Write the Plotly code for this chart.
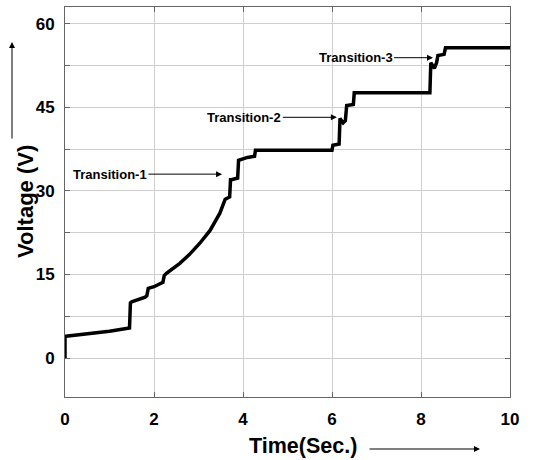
import plotly.graph_objects as go

# Voltage trace (step-like response)
time_s = [0, 0, 0.02, 0.5, 1.0, 1.45, 1.47, 1.5, 1.8, 1.84, 1.87, 2.0, 2.2, 2.23, 2.28,
          2.58, 2.8, 3.03, 3.26, 3.48, 3.6, 3.7, 3.72, 3.74, 3.88, 3.9, 4.1, 4.26, 4.28,
          5.0, 6.0, 6.02, 6.16, 6.18, 6.25, 6.3, 6.33, 6.48, 6.5, 6.52, 7.5, 8.2,
          8.22, 8.3, 8.35, 8.38, 8.52, 8.55, 10.0]
voltage = [0, 3.8, 3.9, 4.3, 4.8, 5.4, 9.9, 10.1, 10.9, 11.2, 12.5, 12.8, 13.6, 14.8, 15.2,
           17.0, 18.6, 20.6, 22.9, 26.0, 28.5, 28.9, 32.0, 32.0, 32.3, 35.5, 36.0, 36.2, 37.3,
           37.3, 37.3, 38.2, 38.4, 43.0, 42.2, 42.6, 45.3, 45.5, 47.6, 47.6, 47.6, 47.6,
           53.0, 52.0, 53.0, 54.3, 54.5, 55.7, 55.7]

# Annotation labels: text, arrow tip (t, V), text centre t
ann_text = ["Transition-1", "Transition-2", "Transition-3"]
ann_tip_t = [3.53, 6.11, 8.27]
ann_tip_v = [33.0, 43.2, 53.9]
ann_txt_t = [1.01, 4.03, 6.53]

y_tickvals = [0, 7.5, 15, 22.5, 30, 37.5, 45, 52.5, 60]
y_ticktext = ["0", "", "15", "", "30", "", "45", "", "60"]
x_tickvals = [0, 2, 4, 6, 8, 10]

FONT = "Liberation Sans, Arial, sans-serif"

fig = go.Figure()
fig.add_trace(go.Scatter(x=time_s, y=voltage, mode="lines",
                         line=dict(color="black", width=3.5), showlegend=False,
                         hoverinfo="skip"))

annotations = []
for txt, tx, tv, ax in zip(ann_text, ann_tip_t, ann_tip_v, ann_txt_t):
    annotations.append(dict(x=tx, y=tv, xref="x", yref="y", ax=ax, ay=tv,
                            axref="x", ayref="y", text="<b>" + txt + "</b>",
                            showarrow=True, arrowhead=2, arrowsize=1.2, arrowwidth=1,
                            arrowcolor="black",
                            font=dict(family=FONT, size=13, color="black")))

# axis titles
annotations.append(dict(x=(303 - 65) / 445, y=(397 - 446) / 390, xref="paper", yref="paper",
                        text="<b>Time(Sec.)</b>", showarrow=False,
                        font=dict(family=FONT, size=21.5, color="black"),
                        xanchor="center", yanchor="middle"))
annotations.append(dict(x=(25 - 65) / 445, y=(397 - 202) / 390, xref="paper", yref="paper",
                        text="<b>Voltage (V)</b>", showarrow=False, textangle=-90,
                        font=dict(family=FONT, size=22, color="black"),
                        xanchor="center", yanchor="middle"))
# decorative arrows next to the axis titles
annotations.append(dict(x=(480 - 65) / 445, y=(397 - 449) / 390, xref="paper", yref="paper",
                        ax=-112, ay=0, axref="pixel", ayref="pixel", text="",
                        showarrow=True, arrowhead=2, arrowsize=1.2, arrowwidth=1,
                        arrowcolor="black"))
annotations.append(dict(x=(12 - 65) / 445, y=(397 - 42) / 390, xref="paper", yref="paper",
                        ax=0, ay=98, axref="pixel", ayref="pixel", text="",
                        showarrow=True, arrowhead=2, arrowsize=1.2, arrowwidth=1,
                        arrowcolor="black"))

fig.update_layout(
    width=546, height=460,
    margin=dict(l=65, r=36, t=7, b=63),
    paper_bgcolor="white", plot_bgcolor="white",
    annotations=annotations,
    font=dict(family=FONT, color="black"),
)
fig.update_xaxes(range=[0, 10], tickvals=x_tickvals,
                 ticktext=["<b>%d</b>" % v for v in x_tickvals],
                 tickfont=dict(family=FONT, size=17, color="black"),
                 showgrid=True, gridcolor="#cfcfcf", gridwidth=1,
                 showline=True, linecolor="#666666", linewidth=1, mirror="ticks",
                 ticks="inside", ticklen=5, tickcolor="#666666", zeroline=False,
                 ticklabelstandoff=7)
fig.update_yaxes(range=[-7, 63], tickvals=y_tickvals,
                 ticktext=["<b>%s</b>" % t if t else "" for t in y_ticktext],
                 tickfont=dict(family=FONT, size=17, color="black"),
                 showgrid=True, gridcolor="#cfcfcf", gridwidth=1,
                 showline=True, linecolor="#666666", linewidth=1, mirror="ticks",
                 ticks="inside", ticklen=5, tickcolor="#666666", zeroline=False,
                 ticklabelstandoff=6)

fig.write_html("out.html")
